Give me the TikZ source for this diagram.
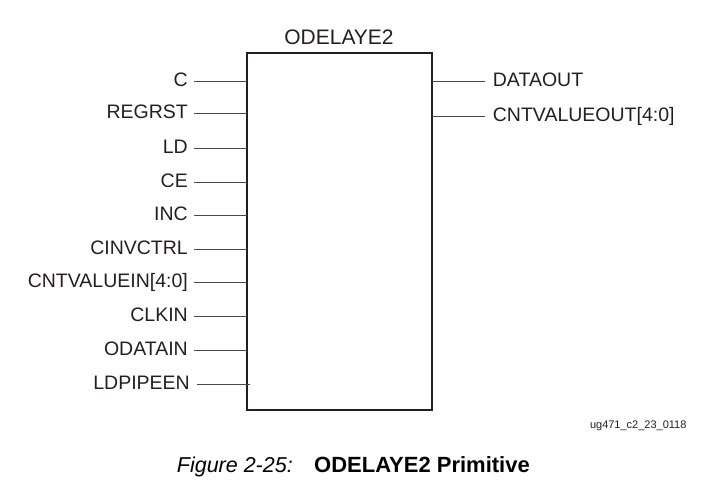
\documentclass[tikz,border=0pt]{standalone}
\usepackage{fontspec}
\setmainfont{Liberation Sans}
\definecolor{ink}{HTML}{231F20}
\definecolor{pinc}{HTML}{4A4A4A}
\begin{document}
\begin{tikzpicture}[x=1pt,y=-1pt,
  lbl/.style={inner sep=0pt,text height=10pt,text depth=0pt,font=\fontsize{19.5}{20}\selectfont,text=ink},
  pinline/.style={draw=pinc,line width=1pt},
  boxst/.style={draw=ink,line width=2pt,minimum width=185pt,minimum height=357pt,inner sep=0pt}]
\useasboundingbox (0,0) rectangle (712,487);
\node[boxst] (box) at (339.5,231.5) {};
\node[font=\fontsize{21}{22}\selectfont,text=ink,anchor=base] (title) at (339,45) {ODELAYE2};
% left pins
\foreach \n/\t/\y in {c/C/81.7, regrst/REGRST/113.3, ld/LD/148.7, ce/CE/182.3, inc/INC/215.7, cinv/CINVCTRL/249.3, cntin/CNTVALUEIN[4:0]/282.7, clkin/CLKIN/316.7, odatain/ODATAIN/350}{
  \node[lbl,anchor=east] (\n) at (188,\y) {\t};
  \coordinate (\n p) at (247,\y);
  \draw[pinline] ([xshift=6pt]\n.east) -- (\n p);
}
\node[lbl,anchor=east] (ldp) at (190,384) {LDPIPEEN};
\coordinate (ldpp) at (250,384);
\draw[pinline] ([xshift=7pt]ldp.east) -- (ldpp);
% right pins
\foreach \n/\t/\y in {dout/DATAOUT/81.7, cntout/CNTVALUEOUT[4:0]/116.7}{
  \node[lbl,anchor=west] (\n) at (492.7,\y) {\t};
  \coordinate (\n p) at (432,\y);
  \draw[pinline] (\n p) -- ([xshift=-7.5pt]\n.west);
}
\node[font=\fontsize{11}{12}\selectfont,text=ink,anchor=base east] (tag) at (690,428) {ug471\_c2\_23\_0118};
\node[font=\fontsize{21.5}{22}\selectfont\itshape,anchor=base west,inner sep=0pt] (fig) at (176.7,472.7) {Figure 2-25:};
\node[font=\fontsize{22}{23}\selectfont\bfseries,anchor=base west,inner sep=0pt] (cap) at (314,472.7) {ODELAYE2 Primitive};
\end{tikzpicture}
\end{document}
